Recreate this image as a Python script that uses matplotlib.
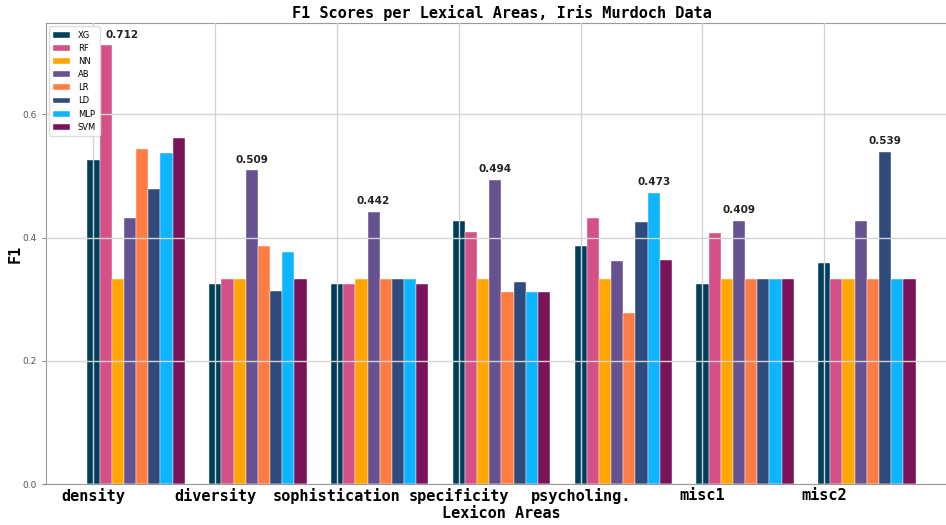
import numpy as np
import matplotlib
matplotlib.use('Agg')
import matplotlib.pyplot as plt

#Data
areas=['density','diversity','sophistication','specificity','psycholing.','misc1','misc2']
models=['XG','RF','NN','AB','LR','LD','MLP','SVM']
colors=['#003f5c','#d45087','#ffa600','#665191','#ff7c43','#2f4b7c','#0db4ff','#7a1358']
XG=[0.526,0.325,0.324,0.427,0.386,0.324,0.358]
RF=[0.712,0.333,0.324,0.409,0.431,0.408,0.333]
NN=[0.333,0.333,0.333,0.333,0.333,0.333,0.333]
AB=[0.432,0.509,0.442,0.494,0.362,0.427,0.427]
LR=[0.544,0.386,0.333,0.312,0.278,0.333,0.333]
LD=[0.478,0.313,0.333,0.328,0.426,0.333,0.539]
MLP=[0.537,0.377,0.333,0.312,0.473,0.333,0.333]
SVM=[0.562,0.333,0.324,0.312,0.364,0.333,0.333]
#Annotated bar per area (model index) and the text shown
best=[1,3,3,3,6,3,5]
best_text=['0.712','0.509','0.442','0.494','0.473','0.409','0.539']

scores=[XG,RF,NN,AB,LR,LD,MLP,SVM]
x=np.arange(len(areas))
w=0.1

fig=plt.figure(figsize=(9.46,5.25),dpi=100)
ax=fig.add_axes([0.0486,0.078,0.963,0.878])
for k in range(len(models)):
    ax.bar(x+k*w,scores[k],w,color=colors[k],label=models[k],
           edgecolor='white',linewidth=0.3,zorder=1)
for i in range(len(areas)):
    k=best[i]
    ha='left' if i==0 else 'center'
    ax.annotate(best_text[i],(x[i]+k*w,scores[k][i]),xytext=(0,4),
                textcoords='offset points',ha=ha,va='bottom',
                fontsize=7.5,fontweight='bold',color='#222222')
ax.set_ylim(0,0.748)
ax.set_xlim(-0.39,7.09)
ax.set_xticks(x)
ax.set_xticklabels(areas,family='DejaVu Sans Mono',fontweight='bold',fontsize=11)
ax.set_yticks([0.0,0.2,0.4,0.6])
ax.tick_params(axis='y',labelsize=6.5,labelcolor='#555555',length=3,color='#888888')
ax.tick_params(axis='x',length=0,pad=3)
ax.grid(True,color='#d3d3d3',linewidth=1,zorder=3)
ax.set_axisbelow(False)
for s in ax.spines.values():
    s.set_color('#999999')
ax.set_xlabel('Lexicon Areas',family='DejaVu Sans Mono',fontweight='bold',fontsize=11,labelpad=1)
ax.set_ylabel('F1',family='DejaVu Sans Mono',fontweight='bold',fontsize=11,labelpad=0)
ax.set_title('F1 Scores per Lexical Areas, Iris Murdoch Data',family='DejaVu Sans Mono',
             fontweight='bold',fontsize=11,pad=4)
leg=ax.legend(loc='upper left',fontsize=6,handlelength=2.0,handletextpad=0.9,framealpha=1,
              edgecolor='#dddddd',fancybox=True,borderpad=0.5,labelspacing=0.5,
              borderaxespad=0.4)
leg.set_zorder(5)
plt.savefig('out.png',dpi=100)
